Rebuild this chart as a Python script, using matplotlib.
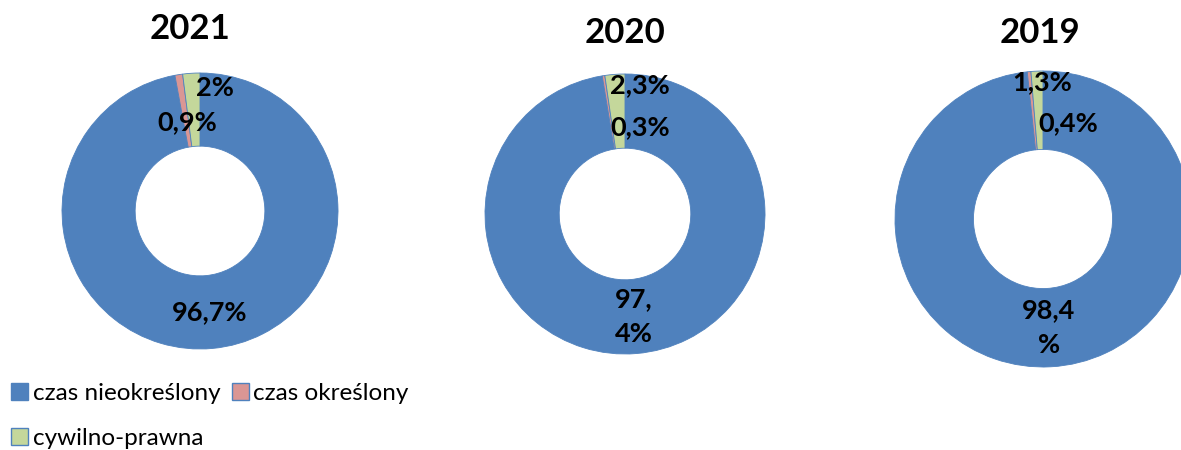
import numpy as np
import matplotlib.pyplot as plt
from matplotlib.patches import Patch

# udział form zatrudnienia w kolejnych latach
years = ["2021", "2020", "2019"]
categories = ["czas nieokreślony", "czas określony", "cywilno-prawna"]
vals_2021 = [96.7, 0.9, 2.0]
vals_2020 = [97.4, 0.3, 2.3]
vals_2019 = [98.4, 0.4, 1.3]
labels_2021 = ["96,7%", "0,9%", "2%"]
labels_2020 = ["97,\n4%", "0,3%", "2,3%"]
labels_2019 = ["98,4\n%", "0,4%", "1,3%"]

colors = ["#4F81BD", "#DA9694", "#C4D79B"]
edge = "#4F81BD"

W, H = 1181, 450
plt.rcParams['font.family'] = ['Lato', 'DejaVu Sans']
fig = plt.figure(figsize=(W / 100, H / 100), dpi=100)

# donut placement in pixels: centre x, centre y (from top), radius
layout = [(200, 211, 138), (625, 214, 140), (1043, 219, 148)]
# positions of the small labels (in radius units), per year: [red, green]
small_pos = [
    [(-0.09, 0.645), (0.11, 0.89)],
    [(0.107, 0.62), (0.107, 0.92)],
    [(0.17, 0.65), (-0.007, 0.925)],
]
title_pos = [(190, 29), (625, 33), (1040, 33)]

data = [vals_2021, vals_2020, vals_2019]
labels = [labels_2021, labels_2020, labels_2019]
hole = 0.47

for i in range(3):
    cx, cy, r = layout[i]
    ax = fig.add_axes([(cx - r) / W, (H - cy - r) / H, 2 * r / W, 2 * r / H])
    wedges, _ = ax.pie(data[i], colors=colors, startangle=90, counterclock=False,
                       radius=1, normalize=True,
                       wedgeprops=dict(width=1 - hole, edgecolor=edge, linewidth=0.6))
    for w in wedges:
        w.set_clip_on(False)
    ax.set_xlim(-1, 1)
    ax.set_ylim(-1, 1)
    ax.set_aspect('equal')
    ax.axis('off')

    # main label sits at the middle of the ring, at the slice's mid angle
    w0 = wedges[0]
    ang = np.deg2rad((w0.theta1 + w0.theta2) / 2)
    rm = (1 + hole) / 2
    ax.text(rm * np.cos(ang), rm * np.sin(ang), labels[i][0], ha='center', va='center',
            fontsize=19.5, fontweight='bold', linespacing=1.55, clip_on=False)
    for j in (1, 2):
        x, y = small_pos[i][j - 1]
        ax.text(x, y, labels[i][j], ha='center', va='center',
                fontsize=19.5, fontweight='bold', clip_on=False)

    tx, ty = title_pos[i]
    fig.text(tx / W, 1 - ty / H, years[i], ha='center', va='center',
             fontsize=25, fontweight='bold')

handles = [Patch(facecolor=c, edgecolor=edge, linewidth=1.0) for c in colors]
order = [0, 2, 1]
fig.legend([handles[k] for k in order], [categories[k] for k in order],
           loc='lower left', bbox_to_anchor=(-0.005, -0.035), ncol=2, frameon=False,
           fontsize=17.5, handlelength=0.7, handleheight=0.7, handletextpad=0.2,
           columnspacing=0.45, labelspacing=0.97, borderaxespad=0.3)

fig.savefig("out.png", dpi=100)
